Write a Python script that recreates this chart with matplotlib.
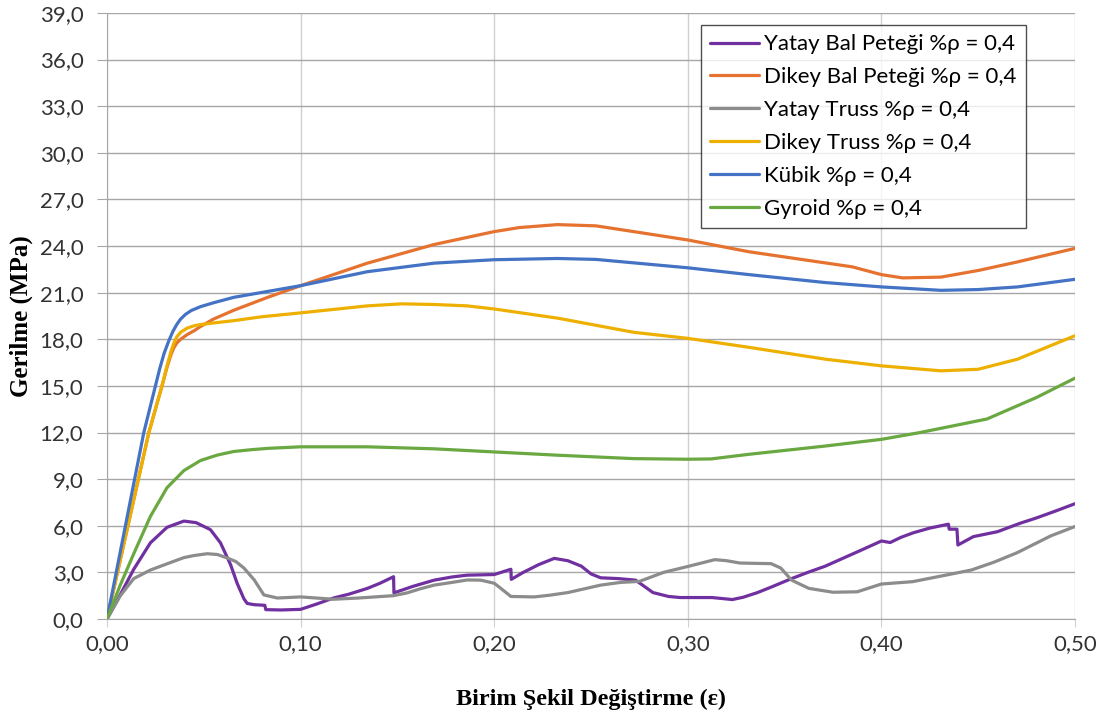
import matplotlib
matplotlib.use("Agg")
import matplotlib.pyplot as plt
from matplotlib.ticker import FuncFormatter, MultipleLocator

# strain values (x) and stress (MPa)
yatay_bal_x = [0, 0.007, 0.0138, 0.0224, 0.031, 0.0397, 0.046, 0.0534, 0.0586, 0.0638,
               0.0672, 0.0707, 0.0724, 0.076, 0.0815, 0.082, 0.09, 0.1, 0.108, 0.117,
               0.125, 0.1345, 0.141, 0.148, 0.1482, 0.158, 0.169, 0.178, 0.186, 0.2,
               0.2086, 0.2088, 0.215, 0.223, 0.231, 0.238, 0.245, 0.25, 0.255, 0.264,
               0.273, 0.282, 0.29, 0.296, 0.3125, 0.323, 0.3286, 0.336, 0.343, 0.3536,
               0.362, 0.371, 0.38, 0.389, 0.4, 0.4045, 0.41, 0.4165, 0.425, 0.4346,
               0.435, 0.439, 0.4395, 0.4475, 0.46, 0.4716, 0.48, 0.49, 0.5]
yatay_bal_y = [0, 1.6, 3.2, 4.9, 5.9, 6.3, 6.2, 5.75, 4.9, 3.5,
               2.3, 1.3, 1.0, 0.92, 0.88, 0.6, 0.58, 0.62, 0.95, 1.35,
               1.6, 1.97, 2.3, 2.72, 1.68, 2.1, 2.5, 2.7, 2.82, 2.86,
               3.2, 2.55, 3.0, 3.5, 3.9, 3.75, 3.4, 2.9, 2.65, 2.6,
               2.5, 1.7, 1.45, 1.38, 1.38, 1.25, 1.4, 1.7, 2.05, 2.6,
               3.0, 3.4, 3.9, 4.4, 5.02, 4.92, 5.25, 5.55, 5.85, 6.1,
               5.78, 5.78, 4.76, 5.3, 5.62, 6.16, 6.5, 6.95, 7.42]

dikey_bal_x = [0, 0.0216, 0.0284, 0.031, 0.033, 0.0345, 0.036, 0.038, 0.0414, 0.045,
               0.048, 0.055, 0.0655, 0.083, 0.1, 0.1345, 0.169, 0.2, 0.213, 0.2327,
               0.2525, 0.272, 0.3, 0.3317, 0.3614, 0.385, 0.4, 0.411, 0.4307, 0.4505,
               0.4703, 0.5]
dikey_bal_y = [0, 12, 15, 16.2, 17.0, 17.45, 17.75, 18.0, 18.3, 18.55,
               18.8, 19.3, 19.87, 20.7, 21.45, 22.9, 24.1, 24.93, 25.19, 25.38,
               25.3, 24.93, 24.39, 23.63, 23.09, 22.66, 22.16, 21.95, 22.0, 22.44,
               22.98, 23.85]

yatay_truss_x = [0, 0.0069, 0.0138, 0.0224, 0.031, 0.0397, 0.0448, 0.0517, 0.057, 0.062,
                 0.0665, 0.0707, 0.076, 0.081, 0.088, 0.1, 0.108, 0.117, 0.13, 0.148,
                 0.155, 0.162, 0.169, 0.178, 0.186, 0.193, 0.2, 0.2034, 0.2086, 0.2207,
                 0.2286, 0.238, 0.255, 0.265, 0.275, 0.2875, 0.3, 0.314, 0.32, 0.327,
                 0.343, 0.348, 0.3536, 0.3625, 0.375, 0.3875, 0.4, 0.416, 0.434, 0.4464,
                 0.458, 0.47, 0.4875, 0.5]
yatay_truss_y = [0, 1.5, 2.6, 3.15, 3.55, 3.95, 4.08, 4.2, 4.15, 3.93,
                 3.7, 3.28, 2.52, 1.55, 1.35, 1.42, 1.35, 1.27, 1.35, 1.5,
                 1.68, 1.95, 2.18, 2.35, 2.51, 2.5, 2.3, 1.97, 1.45, 1.42,
                 1.53, 1.7, 2.18, 2.35, 2.42, 3.0, 3.38, 3.82, 3.75, 3.6,
                 3.56, 3.28, 2.5, 1.97, 1.72, 1.75, 2.25, 2.4, 2.84, 3.15,
                 3.65, 4.26, 5.35, 5.95]

dikey_truss_x = [0, 0.0216, 0.0284, 0.031, 0.033, 0.0345, 0.036, 0.038, 0.0414, 0.045,
                 0.0483, 0.055, 0.0655, 0.08, 0.1, 0.1345, 0.152, 0.169, 0.186, 0.2,
                 0.2327, 0.272, 0.3, 0.3317, 0.371, 0.4, 0.4307, 0.45, 0.4703, 0.5]
dikey_truss_y = [0, 12, 15, 16.3, 17.2, 17.75, 18.15, 18.45, 18.72, 18.87,
                 18.95, 19.05, 19.2, 19.45, 19.7, 20.15, 20.28, 20.24, 20.15, 19.95,
                 19.36, 18.45, 18.06, 17.48, 16.72, 16.29, 15.97, 16.07, 16.72, 18.23]

kubik_x = [0, 0.019, 0.025, 0.0272, 0.0295, 0.0319, 0.034, 0.036, 0.038, 0.0405,
           0.0435, 0.0483, 0.055, 0.0655, 0.1, 0.1345, 0.169, 0.2, 0.2327, 0.2525,
           0.3, 0.3317, 0.371, 0.4, 0.4307, 0.45, 0.4703, 0.5]
kubik_y = [0, 12, 15, 16.1, 17.1, 17.9, 18.5, 18.95, 19.3, 19.6,
           19.85, 20.1, 20.35, 20.7, 21.45, 22.35, 22.9, 23.12, 23.2, 23.14,
           22.6, 22.16, 21.65, 21.37, 21.15, 21.2, 21.37, 21.86]

gyroid_x = [0, 0.0069, 0.0138, 0.0224, 0.031, 0.0397, 0.0483, 0.057, 0.0655, 0.075,
            0.083, 0.1, 0.1345, 0.169, 0.2, 0.2327, 0.272, 0.3, 0.312, 0.3317,
            0.371, 0.4, 0.42, 0.4545, 0.48, 0.5]
gyroid_y = [0, 2.2, 4.2, 6.6, 8.45, 9.55, 10.2, 10.55, 10.78, 10.9,
            10.98, 11.08, 11.08, 10.95, 10.75, 10.54, 10.32, 10.28, 10.3, 10.6,
            11.13, 11.56, 12.0, 12.87, 14.25, 15.5]

labels = [
    "Yatay Bal Peteği %ρ = 0,4",
    "Dikey Bal Peteği %ρ = 0,4",
    "Yatay Truss %ρ = 0,4",
    "Dikey Truss %ρ = 0,4",
    "Kübik %ρ = 0,4",
    "Gyroid %ρ = 0,4",
]
series = [
    (yatay_bal_x, yatay_bal_y, "#7030A0"),
    (dikey_bal_x, dikey_bal_y, "#E5722E"),
    (yatay_truss_x, yatay_truss_y, "#8C8C8C"),
    (dikey_truss_x, dikey_truss_y, "#EEB000"),
    (kubik_x, kubik_y, "#4472C4"),
    (gyroid_x, gyroid_y, "#6AA842"),
]

sans = ["Lato", "DejaVu Sans"]
serif = ["Liberation Serif", "DejaVu Serif"]

fig = plt.figure(figsize=(11.16, 7.2), dpi=100)
ax = fig.add_axes([0.0959, 0.1403, 0.8674, 0.8417])

for (xs, ys, color), label in zip(series, labels):
    ax.plot(xs, ys, color=color, linewidth=2.3, label=label,
            solid_joinstyle="round", solid_capstyle="round", zorder=3)

ax.set_xlim(0, 0.5)
ax.set_ylim(0, 39)
ax.xaxis.set_major_locator(MultipleLocator(0.1))
ax.yaxis.set_major_locator(MultipleLocator(3))
ax.xaxis.set_major_formatter(FuncFormatter(lambda v, p: f"{v:.2f}".replace(".", ",")))
ax.yaxis.set_major_formatter(FuncFormatter(lambda v, p: f"{v:.1f}".replace(".", ",")))

ax.grid(axis="y", color="#A6A6A6", linewidth=1.0, zorder=0)
ax.grid(axis="x", color="#D0D0D0", linewidth=1.0, zorder=0)
for side in ["top", "right"]:
    ax.spines[side].set_visible(False)
ax.spines["left"].set_color("#A6A6A6")
ax.spines["bottom"].set_color("#A6A6A6")
ax.tick_params(axis="y", length=7, color="#A6A6A6", pad=10, labelsize=16)
ax.tick_params(axis="x", length=6, color="#D0D0D0", pad=5, labelsize=16)
for t in ax.get_yticklabels():
    t.set_family(sans)
    t.set_color("#333333")
for t in ax.get_xticklabels():
    t.set_family(["Liberation Sans Narrow"] + sans)
    t.set_color("#333333")

ax.set_xlabel("Birim Şekil Değiştirme (ε)", family=serif, fontweight="bold",
              fontsize=17.5, labelpad=25)
ax.set_ylabel("Gerilme (MPa)", family=serif, fontweight="bold",
              fontsize=18, labelpad=5)

leg = ax.legend(loc="upper right", bbox_to_anchor=(1026 / 1116, 1 - 25 / 720),
                bbox_transform=fig.transFigure, borderaxespad=0,
                prop={"family": sans, "size": 16}, frameon=True, fancybox=False,
                edgecolor="#222222", handlelength=2.2, handletextpad=0.25,
                labelspacing=0.58, borderpad=0.42)
leg.get_frame().set_linewidth(1.0)
leg.set_zorder(5)

fig.savefig("out.png", dpi=100)
